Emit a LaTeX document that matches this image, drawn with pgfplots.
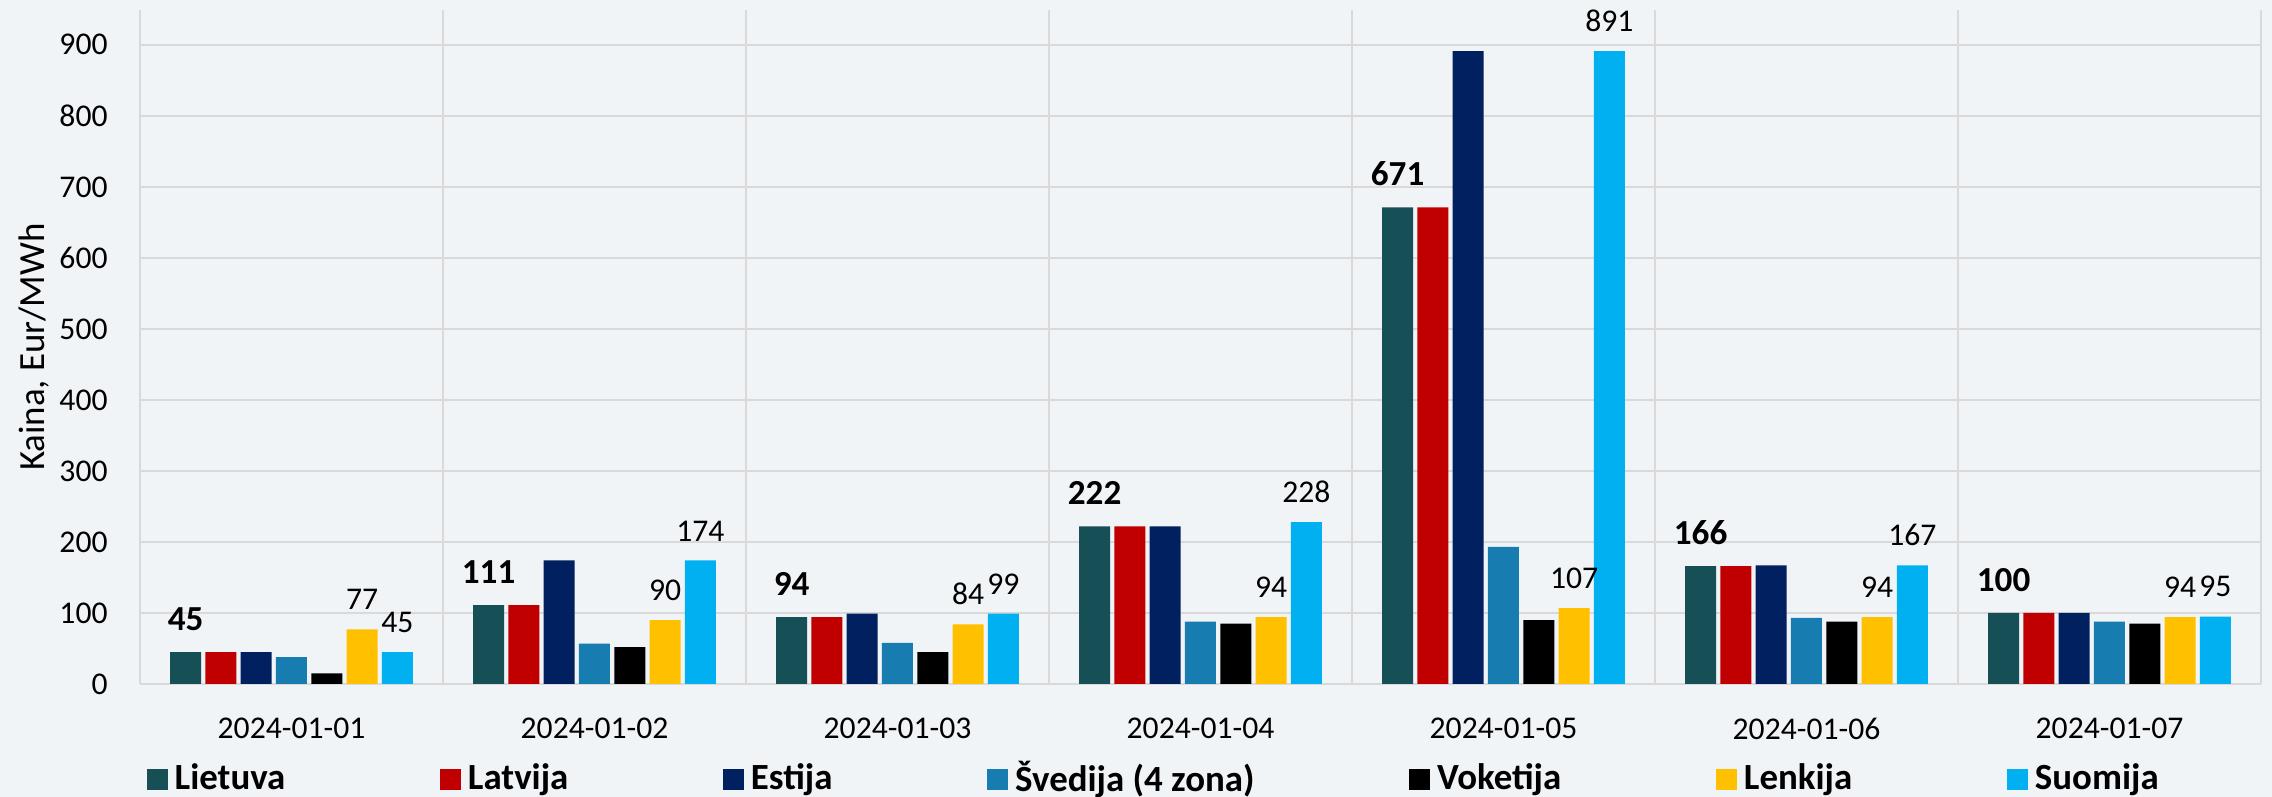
\documentclass[border=0pt]{standalone}
\usepackage{pgfplots}
\pgfplotsset{compat=1.18}
\usepackage{fontspec}
\setmainfont{Carlito}
\definecolor{bg}{HTML}{F1F4F7}
\definecolor{gridc}{HTML}{D9D9D9}
\definecolor{cLT}{HTML}{174F57}
\definecolor{cLV}{HTML}{C00000}
\definecolor{cEE}{HTML}{002060}
\definecolor{cSE}{HTML}{177CB0}
\definecolor{cDE}{HTML}{000000}
\definecolor{cPL}{HTML}{FFC000}
\definecolor{cFI}{HTML}{00B0F0}
\begin{document}
\begin{tikzpicture}
\fill[bg] (-14.0mm,-11.3mm) rectangle (213.2mm,68.4mm);
\useasboundingbox (-14.0mm,-11.3mm) rectangle (213.2mm,68.4mm);
\begin{axis}[
  at={(0,0)}, anchor=south west,
  width=212.1mm, height=67.4mm, scale only axis,
  xmin=-0.5, xmax=6.5, ymin=0, ymax=949,
  ybar=0.43mm, bar width=3.1mm,
  every axis plot/.append style={legend image code/.code={\fill[##1] (0mm,-1.05mm) rectangle (2.1mm,1.05mm);}},
  axis line style={draw=none},
  major tick length=0pt, minor tick length=0pt,
  xtick={0,1,2,3,4,5,6},
  xticklabels={2024-01-01,2024-01-02,2024-01-03,2024-01-04,2024-01-05,2024-01-06,2024-01-07},
  minor xtick={-0.5,0.5,1.5,2.5,3.5,4.5,5.5,6.5},
  xminorgrids=true, ymajorgrids=true, xmajorgrids=false,
  grid style={draw=gridc, line width=0.2mm},
  minor grid style={draw=gridc, line width=0.2mm},
  ytick={0,100,...,900},
  /pgf/number format/assume math mode=true,
  yticklabel style={font=\fontsize{9}{10}\selectfont, xshift=-2mm},
  xticklabel style={font=\fontsize{9}{10}\selectfont, yshift=-2.2mm},
  ylabel={Kaina, Eur/MWh},
  every axis y label/.style={at={(axis description cs:-0.05,0.5)}, rotate=90, anchor=center, font=\fontsize{10.5}{12}\selectfont},
  legend style={at={(axis description cs:0.0028,-0.141)}, anchor=west, draw=none, fill=none,
    inner xsep=0pt, font=\bfseries\fontsize{10.5}{12}\selectfont,
    /tikz/every even column/.append style={column sep=14.75mm}},
  legend columns=-1,
  legend cell align=left,
  clip=false,
]
\addplot[fill=cLT, draw=none, nodes near coords,
  every node near coord/.append style={font=\bfseries\fontsize{10}{12}\selectfont, yshift=0.9mm, text=black}]
  coordinates {(0,45) (1,111) (2,94) (3,222) (4,671) (5,166) (6,100)};
\addlegendentry{Lietuva}
\addplot[fill=cLV, draw=none]
  coordinates {(0,45) (1,111) (2,94) (3,222) (4,671) (5,166) (6,100)};
\addlegendentry{Latvija}
\addplot[fill=cEE, draw=none]
  coordinates {(0,45) (1,174) (2,99) (3,222) (4,891) (5,167) (6,100)};
\addlegendentry{Estija}
\addplot[fill=cSE, draw=none]
  coordinates {(0,38) (1,57) (2,58) (3,88) (4,193) (5,93) (6,88)};
\addlegendentry{Švedija (4 zona)}
\addplot[fill=cDE, draw=none]
  coordinates {(0,15) (1,52) (2,45) (3,85) (4,90) (5,88) (6,85)};
\addlegendentry{Voketija}
\addplot[fill=cPL, draw=none, nodes near coords,
  every node near coord/.append style={font=\fontsize{9}{11}\selectfont, yshift=0.7mm, text=black}]
  coordinates {(0,77) (1,90) (2,84) (3,94) (4,107) (5,94) (6,94)};
\addlegendentry{Lenkija}
\addplot[fill=cFI, draw=none, nodes near coords,
  every node near coord/.append style={font=\fontsize{9}{11}\selectfont, yshift=0.7mm, text=black}]
  coordinates {(0,45) (1,174) (2,99) (3,228) (4,891) (5,167) (6,95)};
\addlegendentry{Suomija}
\end{axis}
\end{tikzpicture}
\end{document}
